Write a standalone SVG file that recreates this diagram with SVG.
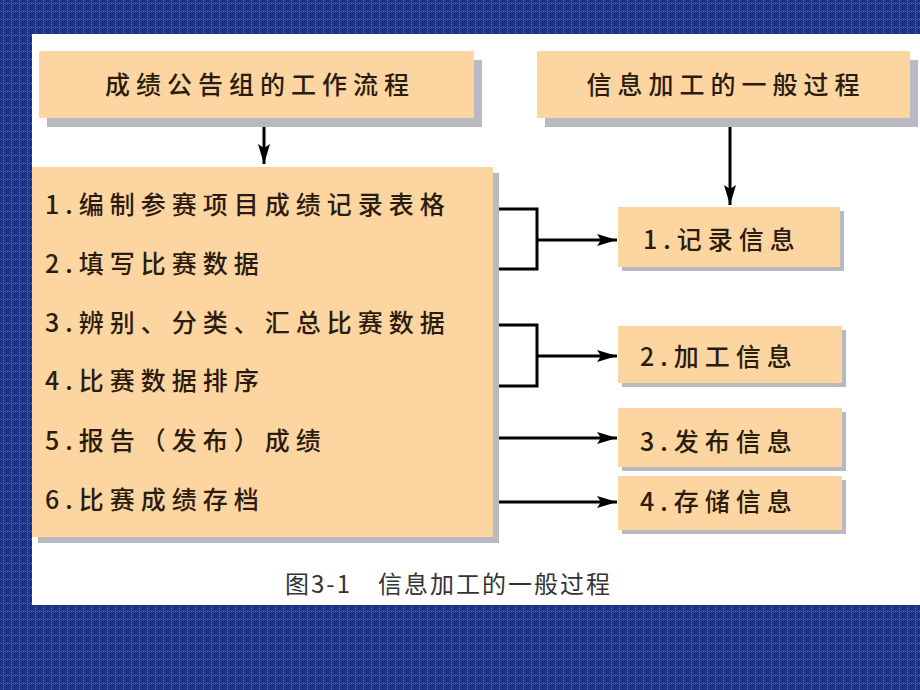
<svg xmlns="http://www.w3.org/2000/svg" width="920" height="690" viewBox="0 0 920 690">
<defs>
<pattern id="grid" x="0" y="0" width="8" height="8" patternUnits="userSpaceOnUse">
<rect width="8" height="8" fill="#1b3486"/>
<rect x="3" y="0" width="1" height="1" fill="#4f78e0"/>
<rect x="3" y="2" width="1" height="1" fill="#4f78e0"/>
<rect x="3" y="4" width="1" height="1" fill="#4f78e0"/>
<rect x="3" y="6" width="1" height="1" fill="#4f78e0"/>
<rect x="1" y="3" width="1" height="1" fill="#4f78e0"/>
<rect x="5" y="3" width="1" height="1" fill="#4f78e0"/>
<rect x="7" y="3" width="1" height="1" fill="#4f78e0"/>
</pattern>
<marker id="arr" viewBox="0 0 20 12" refX="20" refY="6" markerWidth="20" markerHeight="12" markerUnits="userSpaceOnUse" orient="auto">
<path d="M0,0 L20,6 L0,12 L4,6 Z" fill="#000"/>
</marker>
<style>
.box{fill:#fdd5a0}
.sh{fill:#b9b9c2}
.t{font-family:"Noto Sans CJK SC","Noto Sans",sans-serif;font-size:25px;font-weight:500;fill:#2a1c0e;letter-spacing:6px}
.c{text-anchor:middle}
.ln{fill:none;stroke:#000;stroke-width:3}
.cap{font-family:"Noto Sans CJK SC","Noto Sans",sans-serif;font-size:24px;fill:#333;letter-spacing:2px}
</style>
</defs>
<rect width="920" height="690" fill="url(#grid)"/>
<rect x="32" y="34" width="888" height="571" fill="#ffffff"/>

<g id="node-workflow-title">
<rect class="sh" x="47" y="60" width="435" height="67"/>
<rect class="box" x="39" y="51" width="435" height="67"/>
<text class="t c" x="260" y="94">成绩公告组的工作流程</text>
</g>

<g id="node-process-title">
<rect class="sh" x="545" y="60" width="373" height="67"/>
<rect class="box" x="537" y="51" width="373" height="67"/>
<text class="t c" x="726" y="94">信息加工的一般过程</text>
</g>

<g id="node-steps">
<rect class="sh" x="38" y="173" width="461" height="370"/>
<rect class="box" x="32" y="167" width="461" height="370"/>
<text class="t" x="45" y="214">1.编制参赛项目成绩记录表格</text>
<text class="t" x="45" y="273">2.填写比赛数据</text>
<text class="t" x="45" y="332">3.辨别、分类、汇总比赛数据</text>
<text class="t" x="45" y="390">4.比赛数据排序</text>
<text class="t" x="45" y="450">5.报告（发布）成绩</text>
<text class="t" x="45" y="509">6.比赛成绩存档</text>
</g>

<g id="node-record">
<rect class="sh" x="622" y="211" width="222" height="60"/>
<rect class="box" x="618" y="207" width="222" height="60"/>
<text class="t" x="643" y="249">1.记录信息</text>
</g>

<g id="node-process">
<rect class="sh" x="622" y="330" width="224" height="57"/>
<rect class="box" x="618" y="326" width="224" height="57"/>
<text class="t" x="640" y="366">2.加工信息</text>
</g>

<g id="node-publish">
<rect class="sh" x="622" y="412" width="224" height="59"/>
<rect class="box" x="618" y="408" width="224" height="59"/>
<text class="t" x="640" y="451">3.发布信息</text>
</g>

<g id="node-store">
<rect class="sh" x="622" y="480" width="224" height="54"/>
<rect class="box" x="618" y="476" width="224" height="54"/>
<text class="t" x="640" y="511">4.存储信息</text>
</g>

<g id="connectors">
<line class="ln" x1="264" y1="127" x2="264" y2="164" marker-end="url(#arr)"/>
<line class="ln" x1="730" y1="127" x2="730" y2="205" marker-end="url(#arr)"/>
<polyline class="ln" points="499,209 537,209 537,269 499,269"/>
<line class="ln" x1="537" y1="240" x2="617" y2="240" marker-end="url(#arr)"/>
<polyline class="ln" points="499,325 537,325 537,386 499,386"/>
<line class="ln" x1="537" y1="356" x2="617" y2="356" marker-end="url(#arr)"/>
<line class="ln" x1="499" y1="438" x2="617" y2="438" marker-end="url(#arr)"/>
<line class="ln" x1="499" y1="502" x2="617" y2="502" marker-end="url(#arr)"/>
</g>

<text class="cap" x="285" y="593">图3-1</text>
<text class="cap" x="378" y="593">信息加工的一般过程</text>
</svg>
